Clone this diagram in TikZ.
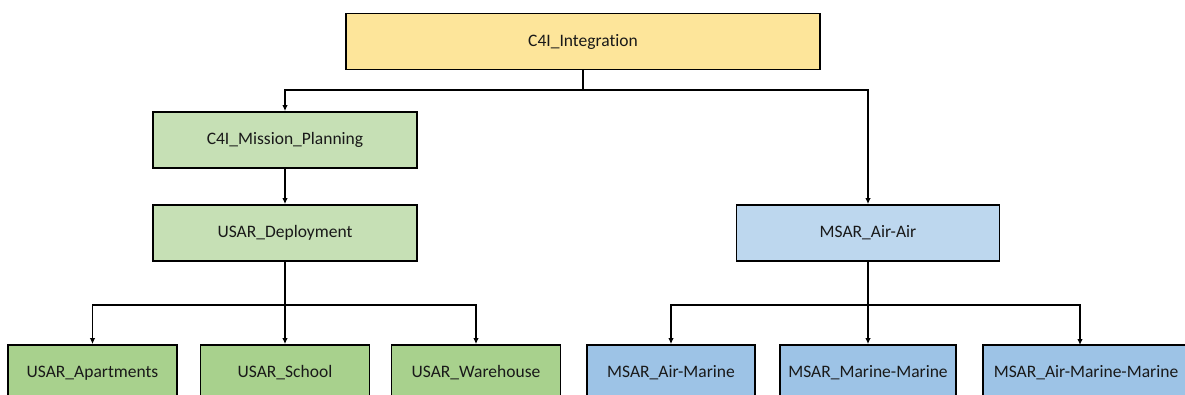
\documentclass[tikz,border=0pt]{standalone}
\usepackage{fontspec}
\setmainfont{Carlito}[Ligatures={NoCommon}]
\usetikzlibrary{arrows.meta}
\definecolor{cyellow}{HTML}{FDE59A}
\definecolor{cgreenl}{HTML}{C6E0B5}
\definecolor{cgreen}{HTML}{A8D18D}
\definecolor{cbluel}{HTML}{BDD7EE}
\definecolor{cblue}{HTML}{9DC3E6}
\tikzset{
  box/.style={draw=black, line width=1.8pt, minimum height=56pt, inner sep=0pt,
    font=\fontsize{17.5}{20}\selectfont, text=black!90},
  conn/.style={draw=black, line width=1.4pt},
  arr/.style={conn, -{Latex[length=6pt,width=5.5pt]}}
}
\begin{document}
\begin{tikzpicture}[x=1pt,y=-1pt]
\useasboundingbox (0,0) rectangle (1185,395);
\fill[white] (0,0) rectangle (1185,395);
% nodes
\node[box, fill=cyellow, minimum width=474pt] (top) at (583,41.5) {C4I\_Integration};
\node[box, fill=cgreenl, minimum width=264pt] (mp) at (285,140) {C4I\_Mission\_Planning};
\node[box, fill=cgreenl, minimum width=264pt] (ud) at (285,233) {USAR\_Deployment};
\node[box, fill=cbluel, minimum width=263pt] (aa) at (868,233) {MSAR\_Air-Air};
\node[box, fill=cgreen, minimum width=169pt] (apt) at (92.5,373) {USAR\_Apartments};
\node[box, fill=cgreen, minimum width=169pt] (sch) at (285,373) {USAR\_School};
\node[box, fill=cgreen, minimum width=169pt] (war) at (476,373) {USAR\_Warehouse};
\node[box, fill=cblue, minimum width=168pt] (am) at (671,373) {MSAR\_Air-Marine};
\node[box, fill=cblue, minimum width=176pt] (mm) at (868,373) {MSAR\_Marine-Marine};
\node[box, fill=cblue, minimum width=206pt] (amm) at (1086,373) {MSAR\_Air-Marine-Marine};
% junctions
\coordinate (j1) at (583,90);
\coordinate (j2) at (285,305);
\coordinate (j3) at (868,305);
\coordinate (ammin) at (1080,345);
% connectors
\draw[conn] (top.south) -- (j1);
\draw[arr] (j1) -| (mp.north);
\draw[arr] (j1) -| (aa.north);
\draw[arr] (mp.south) -- (ud.north);
\draw[conn] (ud.south) -- (j2);
\draw[arr] (j2) -| (apt.north);
\draw[arr] (j2) -- (sch.north);
\draw[arr] (j2) -| (war.north);
\draw[conn] (aa.south) -- (j3);
\draw[arr] (j3) -| (am.north);
\draw[arr] (j3) -- (mm.north);
\draw[arr] (j3) -| (ammin);
\end{tikzpicture}
\end{document}
